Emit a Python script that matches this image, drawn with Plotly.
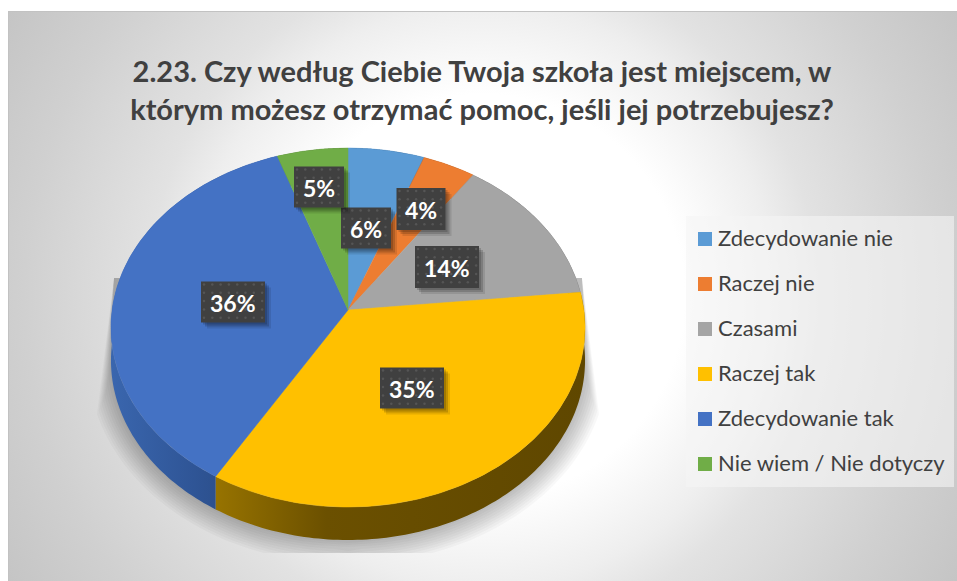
import numpy as np
import plotly.graph_objects as go

# ---- data ----
categories = ["Zdecydowanie nie", "Raczej nie", "Czasami", "Raczej tak", "Zdecydowanie tak", "Nie wiem / Nie dotyczy"]
shares = [5.7, 4.0, 13.7, 35.2, 36.1, 5.3]
title_lines = ["2.23. Czy według Ciebie Twoja szkoła jest miejscem, w",
               "którym możesz otrzymać pomoc, jeśli jej potrzebujesz?"]

# ---- styles ----
top_colors = ["#5B9BD5", "#ED7D31", "#A5A5A5", "#FFC000", "#4472C4", "#70AD47"]
side_scales = [
    [[0, "#2F5E88"], [1, "#2F5E88"]],
    [[0, "#8A4A1B"], [1, "#8A4A1B"]],
    [[0, "#636363"], [1, "#636363"]],
    [[0, "#977300"], [0.3, "#6B5000"], [1, "#5F4700"]],
    [[0, "#3A66AE"], [0.5, "#2F5596"], [1, "#264478"]],
    [[0, "#42682A"], [1, "#42682A"]],
]
label_centers = [(366, 228), (421, 209), (447, 267), (412, 388), (233, 302), (319, 187)]
label_sizes = [(50, 41), (49, 42), (64, 42), (64, 41), (64, 41), (50, 41)]

# pie geometry in screen pixels (perspective disc)
CX, CY, A, B, P, DEPTH = 348, 310, 235.9, 177.8, 0.0975, 33
# legend geometry
LEG_X0, LEG_X1, LEG_Y0, LEG_Y1, LEG_SWATCH_X, LEG_TEXT_X, LEG_ROW0, LEG_STEP = 686, 954, 216, 487, 705, 718, 239, 45


def project(theta, drop=0.0):
    u, w = np.sin(theta), np.cos(theta)
    d = 1 + P * w
    return CX + A * u / d, CY - B * w / d + drop


def rect(x0, y0, x1, y1):
    return [x0, x1, x1, x0, x0], [y0, y0, y1, y1, y0]


fractions = np.array(shares) / sum(shares)
edges = np.concatenate([[0], np.cumsum(fractions)]) * 2 * np.pi

fig = go.Figure()

# background (radial)
BGX, BGY, BGR = 483, 296, 560
bx, by = rect(BGX - BGR, BGY - BGR, BGX + BGR, BGY + BGR)
fig.add_trace(go.Scatter(
    x=bx, y=by, mode="none", fill="toself", hoverinfo="skip", showlegend=False,
    fillgradient=dict(type="radial", colorscale=[
        [0, "#FFFFFF"], [0.36, "#FFFFFF"], [0.52, "#EEEEEE"], [0.6, "#E2E2E2"],
        [0.82, "#D0D0D0"], [1, "#C4C4C4"]]),
))

# soft shadow under the disc
ys = np.linspace(278, 553, 140)
for s in np.linspace(22, 0, 10):
    trap = 234 + (ys - 278) * 0.125 * (0.35 + 0.65 * s / 22)
    ry = 181 + s
    ell = (238 + s) * np.sqrt(np.clip(1 - ((ys - (328 + DEPTH)) / ry) ** 2, 0, 1))
    ell[ys < 328 + DEPTH] = 1e4
    w = np.minimum(trap, ell)
    fig.add_trace(go.Scatter(
        x=np.concatenate([CX - w, (CX + w)[::-1]]),
        y=np.concatenate([ys, ys[::-1]]),
        mode="none", fill="toself", fillcolor="rgba(0,0,0,0.028)",
        hoverinfo="skip", showlegend=False))

# side walls
for i in range(len(shares)):
    th = np.linspace(edges[i], edges[i + 1], 120)
    x0, y0 = project(th)
    x1, y1 = project(th, DEPTH)
    fig.add_trace(go.Scatter(
        x=np.concatenate([x0, x1[::-1]]), y=np.concatenate([y0, y1[::-1]]),
        mode="none", fill="toself", hoverinfo="skip", showlegend=False,
        fillgradient=dict(type="horizontal", colorscale=side_scales[i])))

# top faces
for i, cat in enumerate(categories):
    th = np.linspace(edges[i], edges[i + 1], 120)
    x0, y0 = project(th)
    fig.add_trace(go.Scatter(
        x=np.concatenate([[CX], x0, [CX]]), y=np.concatenate([[CY], y0, [CY]]),
        mode="lines", line=dict(color=top_colors[i], width=0.5), fill="toself",
        fillcolor=top_colors[i], name=cat, text=f"{cat}: {round(shares[i])}%",
        hoverinfo="text", showlegend=False))

# data-label boxes
annotations = []
for i, ((lx, ly), (bw, bh)) in enumerate(zip(label_centers, label_sizes)):
    for off, alpha in ((6, 0.10), (4, 0.16), (2, 0.16)):
        sx, sy = rect(lx - bw / 2 + off, ly - bh / 2 + off, lx + bw / 2 + off, ly + bh / 2 + off)
        fig.add_trace(go.Scatter(
            x=sx, y=sy, mode="none", fill="toself", fillcolor=f"rgba(0,0,0,{alpha})",
            hoverinfo="skip", showlegend=False))
    sx, sy = rect(lx - bw / 2, ly - bh / 2, lx + bw / 2, ly + bh / 2)
    fig.add_trace(go.Scatter(
        x=sx, y=sy, mode="none", fill="toself", fillcolor="#404040", hoverinfo="skip", showlegend=False))
    gx, gy = np.meshgrid(np.arange(lx - bw / 2 + 3, lx + bw / 2 - 1, 8.3),
                         np.arange(ly - bh / 2 + 3, ly + bh / 2 - 1, 8.3))
    fig.add_trace(go.Scatter(
        x=gx.ravel(), y=gy.ravel(), mode="markers",
        marker=dict(size=2.5, color="#555555"), hoverinfo="skip", showlegend=False))
    annotations.append(dict(
        x=lx, y=ly + 1, xref="x", yref="y", text=f"<b>{round(shares[i])}%</b>", showarrow=False,
        font=dict(family="Lato", size=23, color="#FFFFFF")))

# legend panel, swatches and entries
px, py = rect(LEG_X0, LEG_Y0, LEG_X1, LEG_Y1)
fig.add_trace(go.Scatter(
    x=px, y=py, mode="none", fill="toself", fillcolor="rgba(245,245,245,0.6)",
    hoverinfo="skip", showlegend=False))
for i, (cat, col) in enumerate(zip(categories, top_colors)):
    row_y = LEG_ROW0 + i * LEG_STEP
    fig.add_trace(go.Scatter(
        x=[LEG_SWATCH_X], y=[row_y], mode="markers", name=cat, showlegend=False, hoverinfo="name",
        marker=dict(symbol="square", size=14, color=col)))
    annotations.append(dict(
        x=LEG_TEXT_X, y=row_y, xref="x", yref="y", xanchor="left", text=cat, showarrow=False,
        xshift=-2, yshift=2, font=dict(family="Lato", size=22, color="#404040")))

fig.update_layout(
    width=957, height=581, autosize=False,
    margin=dict(l=9, r=0, t=12, b=0),
    paper_bgcolor="#FFFFFF", plot_bgcolor="rgba(0,0,0,0)",
    xaxis=dict(range=[9, 957], side="top", showgrid=False, zeroline=False, showticklabels=False,
               ticks="", showline=True, linecolor="#C2C2C2", linewidth=1),
    yaxis=dict(range=[581, 12], showgrid=False, zeroline=False, showticklabels=False,
               ticks="", showline=True, linecolor="#C2C2C2", linewidth=1),
    title=dict(text="<b>" + "<br>".join(title_lines) + "</b>", x=482 / 957, xanchor="center",
               y=0.859, yanchor="middle",
               font=dict(family="Lato", size=29, color="#404040")),
    annotations=annotations,
    showlegend=False,
)

fig.write_html("out.html", include_plotlyjs=True,
               config={"displayModeBar": False},
               post_script="document.body.style.margin='0';document.documentElement.style.overflow='hidden';")
